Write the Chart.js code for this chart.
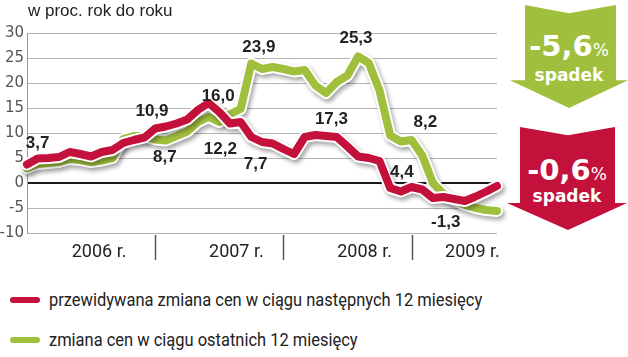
<!DOCTYPE html>
<html><head><meta charset="utf-8">
<script src="https://cdn.jsdelivr.net/npm/chart.js@4/dist/chart.umd.min.js"></script>
<style>
html,body{margin:0;padding:0;background:#fff;width:628px;height:357px;overflow:hidden;font-family:"Liberation Sans",Arial,sans-serif;}
#wrap{position:relative;width:628px;height:357px;}
#c{position:absolute;left:0;top:0;}
.title{position:absolute;left:28px;top:1px;font-size:17px;color:#222;white-space:nowrap;}
.arrow{position:absolute;color:#fff;text-align:center;font-family:"DejaVu Sans",sans-serif;font-weight:bold;}
.arrow .big{position:absolute;left:0;width:100%;font-size:29px;line-height:30px;}
.arrow .big span{font-size:17px;font-weight:normal;}
.arrow .small{position:absolute;left:0;width:100%;font-size:17px;line-height:18px;}
.leg{position:absolute;left:10px;width:30px;height:6px;border-radius:3px;}
.legt{position:absolute;left:49px;font-family:Roboto,"Liberation Sans",sans-serif;font-size:18px;color:#222;white-space:nowrap;line-height:20px;transform:scaleX(0.915);transform-origin:0 50%;}
</style></head>
<body><div id="wrap">
<canvas id="c" width="628" height="270"></canvas>
<div class="title">w proc. rok do roku</div>
<div class="arrow" id="ag" style="left:510px;top:5px;width:118px;height:103px;background:#a0bf3d;clip-path:polygon(12.7% 0,50% 8%,89.8% 0,89.8% 73%,100% 73%,50% 100%,0 73%,12.7% 73%);">
  <div class="big" style="top:26px;">-5,6<span>%</span></div>
  <div class="small" style="top:61px;">spadek</div>
</div>
<div class="arrow" id="ar" style="left:507px;top:127px;width:120px;height:103px;background:#c4113b;clip-path:polygon(10.8% 0,50.8% 8%,90% 0,90% 73.8%,100% 73.8%,50.8% 100%,0 73.8%,10.8% 73.8%);">
  <div class="big" style="top:28px;">-0,6<span>%</span></div>
  <div class="small" style="top:60px;">spadek</div>
</div>
<div class="leg" style="top:297px;background:#c4113b;"></div>
<div class="legt" style="top:290px;">przewidywana zmiana cen w ciągu następnych 12 miesięcy</div>
<div class="leg" style="top:337px;background:#a0bf3d;"></div>
<div class="legt" style="top:330px;">zmiana cen w ciągu ostatnich 12 miesięcy</div>
</div>
<script>
// ---- data ----
const months = [
 '01.2006','02.2006','03.2006','04.2006','05.2006','06.2006','07.2006','08.2006','09.2006','10.2006','11.2006','12.2006',
 '01.2007','02.2007','03.2007','04.2007','05.2007','06.2007','07.2007','08.2007','09.2007','10.2007','11.2007','12.2007',
 '01.2008','02.2008','03.2008','04.2008','05.2008','06.2008','07.2008','08.2008','09.2008','10.2008','11.2008','12.2008',
 '01.2009','02.2009','03.2009','04.2009','05.2009','06.2009','07.2009','08.2009','09.2009'
];
// przewidywana zmiana cen w ciągu następnych 12 miesięcy
const expectedChange = [
 3.7, 4.9, 5.0, 5.2, 6.2, 5.8, 5.3, 6.2, 6.6, 8.0, 8.6, 9.1,
 10.9, 11.3, 11.9, 12.7, 14.6, 16.0, 14.2, 11.9, 12.2, 9.2, 8.2, 7.9,
 6.8, 5.8, 9.2, 9.6, 9.4, 9.2, 7.3, 5.3, 5.0, 4.4, -1.0, -1.7,
 -0.8, -1.3, -3.0, -2.8, -3.2, -3.6, -2.7, -1.7, -0.6
];
// zmiana cen w ciągu ostatnich 12 miesięcy
const recentChange = [
 3.0, 3.8, 4.0, 4.2, 4.8, 4.6, 4.2, 4.5, 5.0, 8.8, 9.4, 9.3,
 8.7, 8.5, 9.4, 10.3, 12.2, 13.2, 12.2, 13.8, 14.8, 23.9, 22.8, 23.2,
 22.8, 22.3, 22.6, 19.5, 18.0, 20.2, 21.5, 25.3, 24.0, 18.5, 9.5, 8.3,
 8.6, 5.5, 0.0, -2.2, -3.4, -4.4, -5.0, -5.4, -5.6
];
const yTicks = [-10, -5, 0, 5, 10, 15, 20, 25, 30];
const yearLabels = ['2006 r.', '2007 r.', '2008 r.', '2009 r.'];
const yearStarts = [12, 24, 36];           // month index where a new year begins
const yearLabelAt = [6.75, 19.6, 31.6, 41.7]; // month index at label centre
const valueLabels = ['3,7','10,9','8,7','16,0','12,2','7,7','23,9','25,3','17,3','8,2','4,4','-1,3'];
// label anchor: [month index, value]
const valueLabelAt = [[1.0,8.0],[11.7,14.4],[12.9,5.2],[17.9,17.4],[18.1,6.8],[21.4,3.8],[21.7,27.2],[30.8,29.0],[28.5,12.8],[37.3,12.2],[35.1,2.2],[39.2,-7.8]];

const RED = '#c4113b', GREEN = '#a0bf3d';

const shadowPlugin = {
  id: 'shadowPlugin',
  beforeDatasetDraw(chart, args) {
    const ds = chart.data.datasets[args.index];
    if (ds.shadow) {
      const ctx = chart.ctx; ctx.save();
      ctx.shadowColor = 'rgba(0,0,0,0.35)'; ctx.shadowBlur = 4; ctx.shadowOffsetX = 2; ctx.shadowOffsetY = 3;
    }
  },
  afterDatasetDraw(chart, args) {
    const ds = chart.data.datasets[args.index];
    if (ds.shadow) chart.ctx.restore();
  }
};

const annotPlugin = {
  id: 'annotPlugin',
  afterDatasetsDraw(chart) {
    const ctx = chart.ctx, xs = chart.scales.x, ys = chart.scales.y;
    ctx.save();
    ctx.fillStyle = '#222';
    ctx.font = 'bold 17px "Liberation Sans", Arial, sans-serif';
    ctx.textAlign = 'center'; ctx.textBaseline = 'middle';
    valueLabels.forEach((t, k) => {
      const [xi, v] = valueLabelAt[k];
      ctx.fillText(t, xs.getPixelForValue(xi), ys.getPixelForValue(v));
    });
    ctx.restore();
  },
  afterDraw(chart) {
    const ctx = chart.ctx, xs = chart.scales.x, ca = chart.chartArea;
    ctx.save();
    ctx.strokeStyle = '#555'; ctx.lineWidth = 1.5;
    yearStarts.forEach(i => {
      const x = Math.round(xs.getPixelForValue(i)) + 0.5;
      ctx.beginPath(); ctx.moveTo(x, ca.bottom + 2); ctx.lineTo(x, ca.bottom + 27); ctx.stroke();
    });
    ctx.fillStyle = '#222';
    ctx.font = '18px Roboto, "DejaVu Sans", sans-serif';
    ctx.textAlign = 'center'; ctx.textBaseline = 'middle';
    yearLabels.forEach((t, k) => ctx.fillText(t, xs.getPixelForValue(yearLabelAt[k]), ca.bottom + 19));
    ctx.restore();
  }
};

const lineBase = { pointRadius: 0, tension: 0, borderJoinStyle: 'round', borderCapStyle: 'round', fill: false, clip: false };

new Chart(document.getElementById('c'), {
  type: 'line',
  data: {
    labels: months,
    datasets: [
      { ...lineBase, data: expectedChange, borderColor: RED, borderWidth: 8, order: 0 },
      { ...lineBase, data: expectedChange, borderColor: '#fff', borderWidth: 12, order: 1, shadow: true },
      { ...lineBase, data: recentChange, borderColor: GREEN, borderWidth: 8, order: 2 },
      { ...lineBase, data: recentChange, borderColor: '#fff', borderWidth: 12, order: 3, shadow: true }
    ]
  },
  options: {
    responsive: false, animation: false,
    layout: { padding: { top: 33, right: 131, left: 0, bottom: 37 } },
    plugins: { legend: { display: false }, tooltip: { enabled: false } },
    scales: {
      x: { type: 'category', display: false, offset: false },
      y: {
        min: -10, max: 30,
        afterFit(scale) { scale.width = 27; },
        afterBuildTicks(scale) { scale.ticks = yTicks.map(v => ({ value: v })); },
        ticks: { color: '#555', padding: 3, font: { family: '"DejaVu Sans", sans-serif', size: 15 }, callback: v => String(v) },
        grid: {
          drawTicks: false,
          color: c => c.tick && c.tick.value === 0 ? '#1a1a1a' : '#b5b5b5',
          lineWidth: c => c.tick && c.tick.value === 0 ? 2 : 1
        },
        border: { display: true, color: '#999', width: 1 }
      }
    }
  },
  plugins: [shadowPlugin, annotPlugin]
});
</script>
</body></html>
